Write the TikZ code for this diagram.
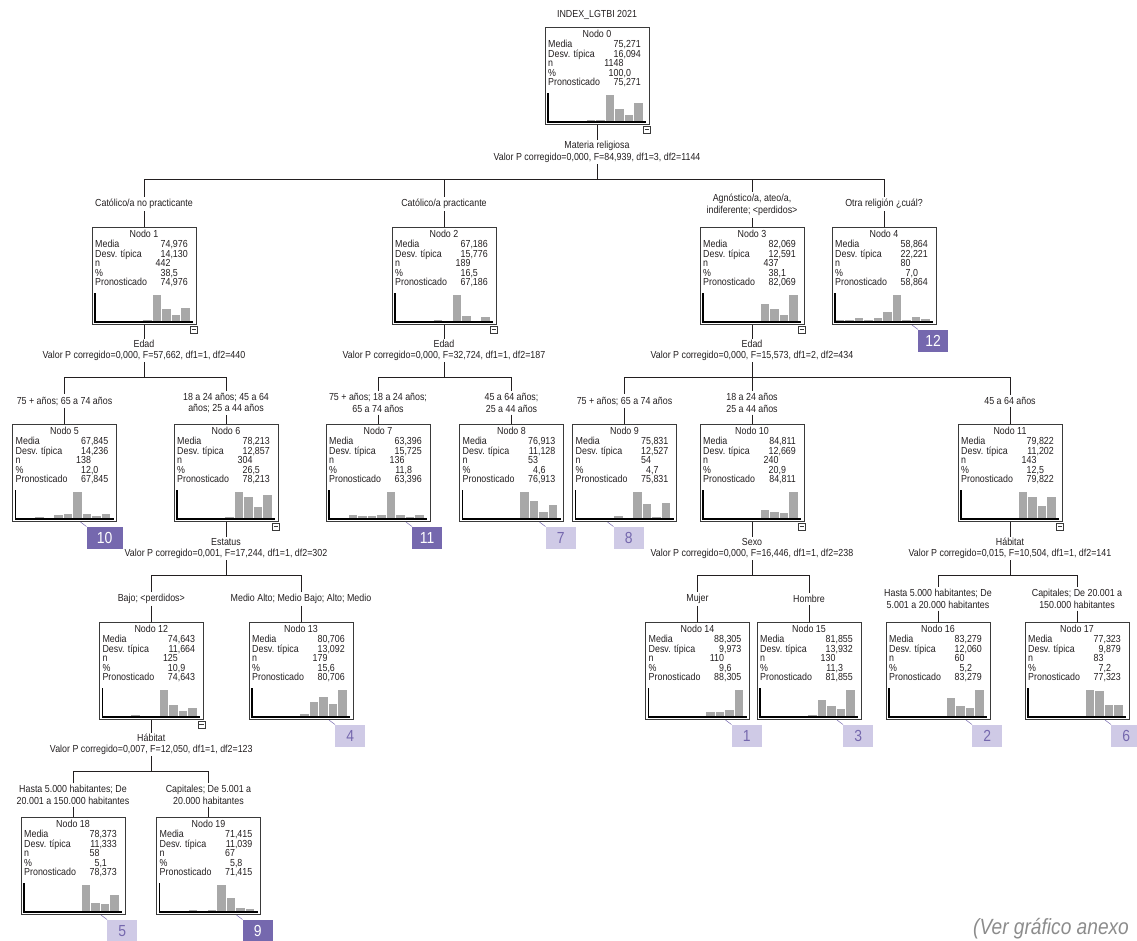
\documentclass[tikz,border=0pt]{standalone}
\usepackage{fontspec}
\setmainfont{Liberation Sans}[FakeStretch=0.87]
\usepackage{tikz}
\usetikzlibrary{calc}
\definecolor{arbink}{HTML}{231F20}
\definecolor{arbline}{HTML}{3A3A3A}
\definecolor{arbbar}{HTML}{A8A8A8}
\definecolor{arblila}{HTML}{CFCAE6}
\definecolor{arbmorado}{HTML}{7568AE}
\definecolor{arbnota}{HTML}{8C8C8C}
\tikzset{
  caja/.style={draw=arbline, line width=1pt, minimum width=104pt, minimum height=97pt, inner sep=0pt, anchor=north},
  txt/.style={inner sep=0pt, text=arbink},
  crit/.style={inner sep=1.5pt, text=arbink, align=center},
  rama/.style={inner sep=2pt, text=arbink, align=center},
  lin/.style={draw=arbink, line width=0.75pt},
  barra/.style={fill=arbbar},
  eje/.style={draw=black, line width=1.3pt},
  menos/.style={draw=arbline, fill=white, line width=0.6pt, minimum size=7pt, inner sep=0pt,
    path picture={\draw[line width=0.6pt] ([xshift=1.3pt]path picture bounding box.west) -- ([xshift=-1.3pt]path picture bounding box.east);}},
  hoja/.style={minimum width=30pt, minimum height=22pt, inner sep=0pt, anchor=north west, font=\fontsize{16}{16}\selectfont},
  hclara/.style={hoja, fill=arblila, text=arbmorado},
  hoscura/.style={hoja, fill=arbmorado, text=white},
  hln/.style={draw=arbmorado, line width=0.5pt},
  nota/.style={inner sep=0pt, text=arbnota, font=\fontsize{22}{22}\selectfont\itshape},
}
% caja de nodo: nombre, x centro, y arriba, numero, media, desv, n, %, barras
\newcommand\nodo[9]{%
  \node[caja] (#1) at (#2,#3) {};
  \foreach \h [count=\i from 0] in {#9}
    \fill[barra] ({#2-48.5+9.5*\i},{#3+95}) rectangle ++(8.5,-\h);
  \draw[eje] ({#2-49},{#3+66}) -- ({#2-49},{#3+95}) -- ({#2+49},{#3+95});
  \node[txt, anchor=base] (#1-t) at (#2,{#3+10.5}) {Nodo #4};
  \node[txt, anchor=base west] (#1-a) at ({#2-49},{#3+20.5}) {Media};
  \node[txt, anchor=base west] (#1-b) at ({#2-49},{#3+30}) {Desv. típica};
  \node[txt, anchor=base west] (#1-c) at ({#2-49},{#3+39.5}) {n};
  \node[txt, anchor=base west] (#1-d) at ({#2-49},{#3+49}) {\%};
  \node[txt, anchor=base west] (#1-e) at ({#2-49},{#3+58.5}) {Pronosticado};
  \node[txt, anchor=base east] (#1-va) at ({#2+44},{#3+20.5}) {#5};
  \node[txt, anchor=base east] (#1-vb) at ({#2+44},{#3+30}) {#6};
  \node[txt, anchor=base east] (#1-vc) at ({#2+44},{#3+39.5}) {#7\phantom{,000}};
  \node[txt, anchor=base east] (#1-vd) at ({#2+44},{#3+49}) {#8\phantom{00}};
  \node[txt, anchor=base east] (#1-ve) at ({#2+44},{#3+58.5}) {#5};
}
\newcommand\menos[1]{\node[menos] (#1-m) at ($(#1.south east)+(-2.5,4.5)$) {};}
% variable de corte bajo un nodo
\newcommand\corte[5]{%
  \node[crit] (#1-v) at (#2,#3) {#4};
  \node[crit] (#1-s) at (#2,{#3+12}) {#5};
  \coordinate (#1-x) at (#2,{#3+33});
  \draw[lin] (#1.south) -- (#1-v.north);
  \draw[lin] (#1-s.south) -- (#1-x);
  \menos{#1}}
\newcommand\hoja[4]{%
  \node[#4] (#1-h) at ($(#1.south east)+(-#3,4.5)$) {#2};
  \coordinate (#1-p) at ($(#1.south east)+({-#3-6},0)$);
  \draw[hln] (#1-p) -- (#1-h.north west);}

\begin{document}
\begin{tikzpicture}[x=1pt, y=-1pt, font=\fontsize{10.2}{11.5}\selectfont]
\useasboundingbox (0,0) rectangle (1137,940);
\node[txt] (tit) at (597,15) {INDEX\_LGTBI 2021};

\nodo{n0}{597}{27}{0}{75,271}{16,094}{1148}{100,0}{0,0,0.7,0.7,1.8,2.4,27,12.8,7,18.7}
\nodo{n1}{144}{227}{1}{74,976}{14,130}{442}{38,5}{0,0,0,0,0.6,1.9,27,13,6.7,14}
\nodo{n2}{444}{227}{2}{67,186}{15,776}{189}{16,5}{0,0,0.7,0.7,1.8,0.7,27,6.2,0.7,5.4}
\nodo{n3}{752}{227}{3}{82,069}{12,591}{437}{38,1}{0,0,0,0,0,0.5,18,12.6,7.2,27}
\nodo{n4}{884}{227}{4}{58,864}{22,221}{80}{7,0}{1.8,2.4,4.2,1.8,4.2,9.8,27,2.4,5.3,3.5}
\nodo{n5}{64.5}{424}{5}{67,845}{14,236}{138}{12,0}{0,0.5,1.7,0.5,4,5,27,5,3.3,5}
\nodo{n6}{226}{424}{6}{78,213}{12,857}{304}{26,5}{0,1,0,0.7,1.3,1.7,27,22,12.2,23.7}
\nodo{n7}{378}{424}{7}{63,396}{15,725}{136}{11,8}{0,0.7,3.7,2.7,2.7,3.7,27,4,2.3,4}
\nodo{n8}{511.5}{424}{8}{76,913}{11,128}{53}{4,6}{0,0,0,0,0,0,27,17.9,6.8,14.5}
\nodo{n9}{624.5}{424}{9}{75,831}{12,527}{54}{4,7}{0,0,0,0,3.4,0,27,15.5,2,16.2}
\nodo{n10}{752}{424}{10}{84,811}{12,669}{240}{20,9}{0,0.5,0,0.5,0,1,9.5,6.8,6.5,27}
\nodo{n11}{1010}{424}{11}{79,822}{11,202}{143}{12,5}{0,0,0,0,0,0.5,27,22.4,12.8,22}
\nodo{n12}{151.3}{622}{12}{74,643}{11,664}{125}{10,9}{0,0,0,1.7,0,0.7,27,12.4,5.8,9.1}
\nodo{n13}{301}{622}{13}{80,706}{13,092}{179}{15,6}{0,1,0,1,1,3.4,15.2,20.2,13.4,27}
\nodo{n14}{697.5}{622}{14}{88,305}{9,973}{110}{9,6}{0,0,0,0,0,0,5,5,6.8,27}
\nodo{n15}{809}{622}{15}{81,855}{13,932}{130}{11,3}{0,0.7,0,0.7,0,1.7,17.3,11.1,7.6,27}
\nodo{n16}{938}{622}{16}{83,279}{12,060}{60}{5,2}{0,0,0,0,0,0,19,11.4,9.3,27}
\nodo{n17}{1077}{622}{17}{77,323}{9,879}{83}{7,2}{0,0,0,0,0,0,27,26.3,12.4,12.4}
\nodo{n18}{73}{817}{18}{78,373}{11,333}{58}{5,1}{0,0,0,0,0,0,27,9.4,8.4,17.5}
\nodo{n19}{208.5}{817}{19}{71,415}{11,039}{67}{5,8}{0,0,0,2.3,0,1.7,27,14.5,4,3.4}

\corte{n0}{597}{146}{Materia religiosa}{Valor P corregido=0,000, F=84,939, df1=3, df2=1144}
\corte{n1}{144}{344}{Edad}{Valor P corregido=0,000, F=57,662, df1=1, df2=440}
\corte{n2}{444}{344}{Edad}{Valor P corregido=0,000, F=32,724, df1=1, df2=187}
\corte{n3}{752}{344}{Edad}{Valor P corregido=0,000, F=15,573, df1=2, df2=434}
\corte{n6}{226}{542}{Estatus}{Valor P corregido=0,001, F=17,244, df1=1, df2=302}
\corte{n10}{752}{542}{Sexo}{Valor P corregido=0,000, F=16,446, df1=1, df2=238}
\corte{n11}{1010}{542}{Hábitat}{Valor P corregido=0,015, F=10,504, df1=1, df2=141}
\corte{n12}{151.3}{738}{Hábitat}{Valor P corregido=0,007, F=12,050, df1=1, df2=123}

\node[rama] (r1) at (144,204) {Católico/a no practicante};
\node[rama] (r2) at (444,204) {Católico/a practicante};
\node[rama] (r3) at (752,205) {Agnóstico/a, ateo/a,\\indiferente; <perdidos>};
\node[rama] (r4) at (884,204) {Otra religión ¿cuál?};
\node[rama] (r5) at (64.5,401) {75 + años; 65 a 74 años};
\node[rama] (r6) at (226,403) {18 a 24 años; 45 a 64\\años; 25 a 44 años};
\node[rama] (r7) at (378,403) {75 + años; 18 a 24 años;\\65 a 74 años};
\node[rama] (r8) at (511.5,403) {45 a 64 años;\\25 a 44 años};
\node[rama] (r9) at (624.5,401) {75 + años; 65 a 74 años};
\node[rama] (r10) at (752,403) {18 a 24 años\\25 a 44 años};
\node[rama] (r11) at (1010,401) {45 a 64 años};
\node[rama] (r12) at (151.3,599) {Bajo; <perdidos>};
\node[rama] (r13) at (301,599) {Medio Alto; Medio Bajo; Alto; Medio};
\node[rama] (r14) at (697.5,599) {Mujer};
\node[rama] (r15) at (809,599) {Hombre};
\node[rama] (r16) at (938,599) {Hasta 5.000 habitantes; De\\5.001 a 20.000 habitantes};
\node[rama] (r17) at (1077,599) {Capitales; De 20.001 a\\150.000 habitantes};
\node[rama] (r18) at (73,795) {Hasta 5.000 habitantes; De\\20.001 a 150.000 habitantes};
\node[rama] (r19) at (208.5,795) {Capitales; De 5.001 a\\20.000 habitantes};

\foreach \p/\c in {n0/1, n0/2, n0/3, n0/4, n1/5, n1/6, n2/7, n2/8, n3/9, n3/10, n3/11,
                   n6/12, n6/13, n10/14, n10/15, n11/16, n11/17, n12/18, n12/19} {
  \draw[lin] (\p-x) -| (r\c.north);
  \draw[lin] (r\c.south) -- (n\c.north);
}

\hoja{n14}{1}{18.5}{hclara}
\hoja{n16}{2}{18.5}{hclara}
\hoja{n15}{3}{18.5}{hclara}
\hoja{n13}{4}{18.5}{hclara}
\hoja{n18}{5}{18.5}{hclara}
\hoja{n17}{6}{18.5}{hclara}
\hoja{n8}{7}{18.5}{hclara}
\hoja{n9}{8}{63.5}{hclara}
\hoja{n19}{9}{18.5}{hoscura}
\hoja{n5}{10}{30.5}{hoscura, minimum width=36pt}
\hoja{n7}{11}{18.5}{hoscura}
\hoja{n4}{12}{18.5}{hoscura}

\node[nota, anchor=base west] (nota) at (973,934) {(Ver gráfico anexo};
\end{tikzpicture}
\end{document}
